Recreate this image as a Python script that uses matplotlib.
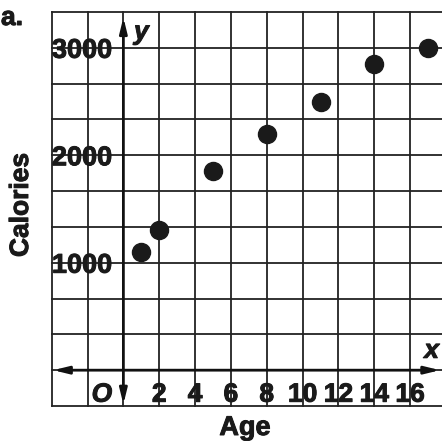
import matplotlib
matplotlib.use("Agg")
import matplotlib.pyplot as plt
import matplotlib.patheffects as pe
import numpy as np

# Data
ages = [1, 2, 5, 8, 11, 14, 17]
calories = [1100, 1300, 1850, 2200, 2500, 2850, 3000]
x_tick_values = [2, 4, 6, 8, 10, 12, 14, 16]
x_tick_labels = ["2", "4", "6", "8", "10", "12", "14", "16"]
y_tick_values = [1000, 2000, 3000]
y_tick_labels = ["1000", "2000", "3000"]

plt.rcParams['font.family'] = ['Liberation Sans', 'DejaVu Sans']

W, H = 442, 441
fig = plt.figure(figsize=(W / 100, H / 100), dpi=100)
left_px, right_px, top_px, bottom_px = 51.7, 442, 12, 406
ax = fig.add_axes([left_px / W, 1 - bottom_px / H, (right_px - left_px) / W, (bottom_px - top_px) / H])

cell_y = 1000 / 3
xmin, xmax = -4, 17.78
ymin, ymax = -cell_y, 10 * cell_y
ax.set_xlim(xmin, xmax)
ax.set_ylim(ymin, ymax)
for s in ax.spines.values():
    s.set_visible(False)
ax.set_xticks([])
ax.set_yticks([])

grid_color = '#222222'
for gx in np.arange(-4, 17, 2):
    ax.axvline(gx, color=grid_color, lw=1.3, clip_on=False, zorder=1)
for k in range(12):
    ax.axhline(ymin + k * cell_y, color=grid_color, lw=1.3, clip_on=False, zorder=1)

# Axes with arrows
ax.annotate('', xy=(0, ymin + 15), xytext=(0, ymax - 50),
            arrowprops=dict(arrowstyle='<|-|>,head_length=0.9,head_width=0.22',
                            color='#111111', lw=2.0, mutation_scale=10,
                            shrinkA=0, shrinkB=0), zorder=2)
ax.annotate('', xy=(xmin + 0.08, 0), xytext=(17.67, 0),
            arrowprops=dict(arrowstyle='<|-|>,head_length=0.9,head_width=0.22',
                            color='#111111', lw=2.0, mutation_scale=10,
                            shrinkA=0, shrinkB=0), zorder=2)

# Points
ax.plot(ages, calories, 'o', color='#1a1a1a', markersize=13, zorder=3, clip_on=False)

txt_color = '#1a1a1a'
thick = [pe.withStroke(linewidth=0.7, foreground=txt_color)]
fs = 19
# y tick labels
for v, lab in zip(y_tick_values, y_tick_labels):
    ax.text(-2.3, v, lab, ha='center', va='center_baseline', fontsize=fs + 0.5,
            fontweight='bold', color=txt_color, zorder=4, path_effects=thick)
# x tick labels
for v, lab in zip(x_tick_values, x_tick_labels):
    ax.text(v, -205, lab, ha='center', va='center_baseline', fontsize=fs,
            fontweight='bold', color=txt_color, zorder=4, path_effects=thick)
ax.text(-1.2, -205, 'O', ha='center', va='center_baseline', fontsize=fs,
        fontweight='bold', style='italic', color=txt_color, zorder=4, path_effects=thick)

ax.text(1.0, ymax - 190, 'y', ha='center', va='center', fontsize=fs,
        fontweight='bold', style='italic', color=txt_color, path_effects=thick)
ax.text(17.2, 180, 'x', ha='center', va='center', fontsize=fs,
        fontweight='bold', style='italic', color=txt_color, path_effects=thick)

fig.text(1 / W, 1 - 25 / H, 'a.', ha='left', va='baseline', fontsize=fs,
         fontweight='bold', color=txt_color, path_effects=thick)
fig.text(21 / W, 1 - 205 / H, 'Calories', ha='center', va='center', rotation=90,
         fontsize=fs, fontweight='bold', color=txt_color, path_effects=thick)
fig.text(245 / W, 1 - 435 / H, 'Age', ha='center', va='baseline', fontsize=fs + 0.5,
         fontweight='bold', color=txt_color, path_effects=thick)

fig.savefig('out.png', dpi=100)
